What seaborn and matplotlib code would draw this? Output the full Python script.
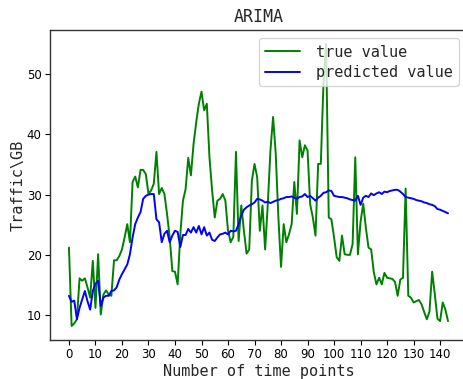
import numpy as np
import pandas as pd
import matplotlib
matplotlib.use("Agg")
import matplotlib.pyplot as plt
import seaborn as sns

true_value = [21.2, 8.2, 8.6, 9.3, 16.1, 15.7, 16.1, 14.6, 12.9, 19.0,
              11.2, 20.1, 10.1, 13.4, 14.1, 13.4, 13.2, 19.1, 19.1, 19.8,
              20.9, 22.9, 25.1, 22.1, 32.1, 33.0, 31.2, 34.1, 34.1, 33.4,
              30.1, 30.7, 31.8, 37.1, 30.1, 31.1, 30.1, 26.8, 22.9, 17.3,
              17.2, 15.1, 23.4, 29.0, 30.9, 36.1, 33.2, 38.4, 42.0, 45.1,
              47.1, 44.0, 45.1, 36.2, 30.7, 26.2, 29.0, 29.3, 30.1, 29.0,
              24.0, 22.1, 23.0, 37.1, 22.3, 28.2, 24.0, 20.2, 20.9, 32.3,
              35.1, 32.9, 24.0, 28.2, 20.9, 28.4, 37.3, 42.9, 36.8, 26.2,
              18.0, 25.1, 22.1, 23.4, 25.1, 32.1, 26.8, 39.0, 36.2, 38.2,
              37.3, 28.4, 26.2, 23.2, 35.1, 35.1, 48.4, 55.0, 26.2, 25.9,
              22.9, 19.6, 19.0, 23.2, 20.1, 20.0, 20.0, 21.8, 36.2, 20.1,
              25.5, 28.5, 24.5, 21.2, 20.9, 17.1, 15.1, 16.2, 15.1, 17.0,
              16.2, 16.1, 16.0, 15.5, 13.2, 15.9, 16.2, 31.0, 13.2, 12.9,
              12.1, 12.3, 12.5, 11.8, 10.5, 9.3, 10.6, 17.2, 13.5, 9.4,
              9.0, 12.1, 10.9, 9.0]

predicted_value = [13.2, 12.2, 12.4, 9.3, 11.2, 12.6, 14.0, 12.3, 10.9, 14.0,
                   15.2, 15.7, 11.5, 12.9, 13.2, 13.2, 14.0, 14.1, 14.6, 15.9,
                   16.8, 17.6, 18.4, 20.1, 22.9, 25.1, 26.2, 27.1, 29.3, 29.8,
                   30.0, 30.1, 30.1, 25.9, 25.4, 22.1, 23.5, 24.0, 22.1, 23.2,
                   24.0, 23.8, 21.3, 23.3, 23.3, 24.3, 23.7, 24.6, 23.7, 24.8,
                   23.4, 24.6, 23.2, 23.7, 22.5, 22.3, 22.9, 23.4, 23.5, 23.7,
                   23.4, 24.0, 23.9, 24.0, 25.1, 26.5, 27.5, 27.9, 28.2, 28.4,
                   28.7, 29.3, 29.2, 29.0, 28.7, 28.8, 28.6, 28.8, 29.0, 29.1,
                   29.3, 29.4, 29.6, 29.6, 29.7, 29.5, 29.3, 29.6, 29.7, 30.1,
                   29.6, 29.8, 29.4, 29.0, 29.5, 29.8, 30.3, 30.4, 30.7, 30.6,
                   29.8, 29.7, 29.6, 29.6, 29.5, 29.4, 29.2, 29.1, 29.0, 29.8,
                   28.3, 29.5, 29.8, 29.6, 30.2, 29.9, 30.2, 30.4, 30.1, 30.5,
                   30.4, 30.6, 30.7, 30.8, 30.8, 30.5, 30.1, 29.6, 29.5, 29.4,
                   29.3, 29.1, 29.0, 28.9, 28.7, 28.6, 28.4, 28.3, 28.1, 27.6,
                   27.5, 27.3, 27.1, 26.9]

x_ticks = list(range(0, 141, 10))
title = "ARIMA"
x_label = "Number of time points"
y_label = "Traffic\\GB"

sns.set_style("ticks")
plt.rcParams['font.family'] = ['DejaVu Sans Mono', 'DejaVu Sans']

t = np.arange(len(true_value))
df = pd.DataFrame({"t": t, "true": true_value, "pred": predicted_value})

fig = plt.figure(figsize=(4.64, 3.79), dpi=100)
ax = fig.add_axes([50/464, 39/379, 417/464, 310/379])

sns.lineplot(data=df, x="t", y="true", color="green", linewidth=1.4,
             label="true value", ax=ax)
sns.lineplot(data=df, x="t", y="pred", color="blue", linewidth=1.4,
             label="predicted value", ax=ax)

ax.set_xticks(x_ticks)
ax.margins(x=0.05, y=0.05)
tick_font = ['Liberation Sans Narrow', 'DejaVu Sans']
for lab in ax.get_xticklabels() + ax.get_yticklabels():
    lab.set_fontfamily(tick_font)
    lab.set_fontsize(8.5)
ax.tick_params(axis='both', length=3.5, width=0.8, colors='black', pad=2.5)
for s in ax.spines.values():
    s.set_color('#333333')
    s.set_linewidth(1.0)

ax.set_title(title, fontsize=12)
ax.set_xlabel(x_label, fontsize=11, labelpad=2)
ax.set_ylabel(y_label, fontsize=11, labelpad=1)

leg = ax.legend(loc="upper right", fontsize=11, handlelength=2.3,
                handletextpad=1.0, borderaxespad=0.55, frameon=True,
                labelspacing=0.35)
leg.get_frame().set_edgecolor('#cccccc')

fig.savefig("out.png", dpi=100)
